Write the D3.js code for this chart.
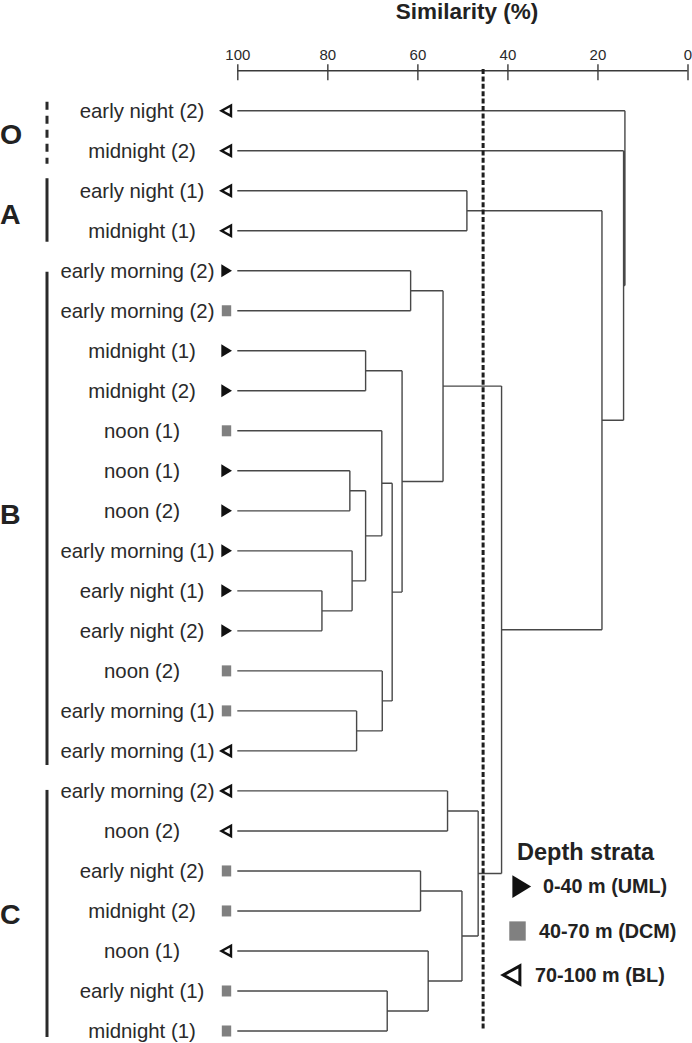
<!DOCTYPE html>
<html>
<head>
<meta charset="utf-8">
<script src="https://cdn.jsdelivr.net/npm/d3@7"></script>
<style>
  html, body { margin: 0; padding: 0; background: #fff; }
  svg { display: block; font-family: Arial, "Liberation Sans", Helvetica, sans-serif; }
</style>
</head>
<body>
<svg id="chart" width="692" height="1043"></svg>
<script>
// ---------- DATA ----------
const leafLabels = [
  "early night (2)", "midnight (2)",
  "early night (1)", "midnight (1)",
  "early morning (2)", "early morning (2)", "midnight (1)", "midnight (2)",
  "noon (1)", "noon (1)", "noon (2)", "early morning (1)", "early night (1)",
  "early night (2)", "noon (2)", "early morning (1)", "early morning (1)",
  "early morning (2)", "noon (2)", "early night (2)", "midnight (2)",
  "noon (1)", "early night (1)", "midnight (1)"
];
const leafStrata = [
  "BL", "BL",
  "BL", "BL",
  "UML", "DCM", "UML", "UML",
  "DCM", "UML", "UML", "UML", "UML",
  "UML", "DCM", "DCM", "BL",
  "BL", "BL", "DCM", "DCM",
  "BL", "DCM", "DCM"
];
// linkage: node ids 0..23 are leaves; merge k creates node 24+k
const mergeLeft  = [12,  9, 11, 15,  6, 25,  8, 14, 22, 30, 28,  4, 19, 21, 35, 17, 36,  2, 39, 38, 41,  1,  0];
const mergeRight = [13, 10, 24, 16,  7, 26, 29, 27, 23, 31, 33,  5, 20, 32, 34, 18, 37,  3, 40, 42, 43, 44, 45];
const mergeSim   = [81.2, 75.0, 74.5, 73.5, 71.5, 71.5, 67.9, 67.8, 66.7, 65.6, 63.4, 61.5, 59.3, 57.6, 54.3, 53.3, 50.1, 49.0, 46.5, 41.3, 19.0, 14.2, 13.9];
const cutOff = 45.4;
const axisTicks = [100, 80, 60, 40, 20, 0];
const groupNames = ["O", "A", "B", "C"];
const groupFirst = [0, 2, 4, 17];
const groupLast  = [1, 3, 16, 23];
const groupDashed = [true, false, false, false];
const strataKeys = ["UML", "DCM", "BL"];
const strataLabels = ["0-40 m (UML)", "40-70 m (DCM)", "70-100 m (BL)"];
const axisTitle = "Similarity (%)";
const legendTitle = "Depth strata";

// ---------- SCALES ----------
const svg = d3.select("#chart");
const x = d3.scaleLinear().domain([100, 0]).range([237.3, 687.5]);
const y = d3.scalePoint().domain(d3.range(leafLabels.length)).range([110.7, 1031]);

// ---------- AXIS ----------
const axisG = svg.append("g").attr("transform", "translate(0,70.7)");
axisG.call(d3.axisTop(x).tickValues(axisTicks).tickSize(6.5).tickPadding(4).tickFormat(d3.format("d")));
axisG.select(".domain").attr("stroke", "#3a3a3a").attr("stroke-width", 1.4).attr("d", `M${x(100)},0H${x(0)}`);
axisG.selectAll(".tick line").attr("stroke", "#3a3a3a").attr("stroke-width", 1.4).attr("y1", 9.5).attr("y2", -6.5);
axisG.selectAll(".tick text").attr("font-size", 15).attr("fill", "#2a2a2a").attr("font-family", "Arial, 'Liberation Sans', sans-serif");

svg.append("text").attr("x", 467).attr("y", 19).attr("text-anchor", "middle")
  .attr("font-size", 22.5).attr("font-weight", "bold").attr("fill", "#222").text(axisTitle);

// ---------- DENDROGRAM ----------
const nodeX = [], nodeY = [];
leafLabels.forEach((_, i) => { nodeX[i] = x(100); nodeY[i] = y(i); });
const segs = [];
mergeSim.forEach((s, k) => {
  const id = leafLabels.length + k;
  const a = mergeLeft[k], b = mergeRight[k];
  const mx = x(s);
  nodeX[id] = mx;
  nodeY[id] = (nodeY[a] + nodeY[b]) / 2;
  segs.push(`M${nodeX[a]},${nodeY[a]}H${mx}`);
  segs.push(`M${nodeX[b]},${nodeY[b]}H${mx}`);
  segs.push(`M${mx},${nodeY[a]}V${nodeY[b]}`);
});
svg.append("path").attr("d", segs.join("")).attr("fill", "none")
  .attr("stroke", "#484848").attr("stroke-width", 1.4);

// cut-off line
svg.append("line").attr("x1", x(cutOff)).attr("x2", x(cutOff)).attr("y1", 69).attr("y2", 1029)
  .attr("stroke", "#1e1e1e").attr("stroke-width", 3).attr("stroke-dasharray", "5,2.4");

// ---------- LEAF LABELS & MARKERS ----------
const labelG = svg.append("g");
leafLabels.forEach((lab, i) => {
  const t = labelG.append("text").attr("y", y(i)).attr("dy", "0.35em")
    .attr("font-size", 20.4).attr("fill", "#2a2a2a").text(lab);
  const w = t.node().getComputedTextLength();
  let cx = 142;
  if (cx + w / 2 > 214.5) cx = 214.5 - w / 2;
  t.attr("x", cx).attr("text-anchor", "middle");
});

function marker(g, type, cx, cy, s, sw) {
  if (type === "UML") {
    g.append("path").attr("d", `M${cx - 5.2 * s},${cy - 6.5 * s}L${cx + 5.5 * s},${cy}L${cx - 5.2 * s},${cy + 6.5 * s}Z`)
      .attr("fill", "#111");
  } else if (type === "DCM") {
    g.append("rect").attr("x", cx - 4.7 * s).attr("y", cy - 5.5 * s).attr("width", 9.4 * s).attr("height", 11 * s)
      .attr("fill", "#808080");
  } else {
    g.append("path").attr("d", `M${cx - 5 * s},${cy}L${cx + 4.5 * s},${cy - 5.2 * s}L${cx + 4.5 * s},${cy + 5.2 * s}Z`)
      .attr("fill", "none").attr("stroke", "#111").attr("stroke-width", sw || 2.4).attr("stroke-linejoin", "miter");
  }
}
const markG = svg.append("g");
leafStrata.forEach((st, i) => marker(markG, st, 226.5, y(i), 1));

// ---------- GROUP BRACKETS ----------
const padTop = [-9, -12.5, 1, -1];
const padBot = [13, 11, 14, 6];
groupNames.forEach((g, k) => {
  const y1 = y(groupFirst[k]) + padTop[k], y2 = y(groupLast[k]) + padBot[k];
  svg.append("line").attr("x1", 47).attr("x2", 47).attr("y1", y1).attr("y2", y2)
    .attr("stroke", "#2a2a2a").attr("stroke-width", 3)
    .attr("stroke-dasharray", groupDashed[k] ? "8,6" : null);
  svg.append("text").attr("x", 0).attr("y", (y(groupFirst[k]) + y(groupLast[k])) / 2 + 3)
    .attr("dy", "0.35em").attr("font-size", 28.5).attr("font-weight", "bold").attr("fill", "#222").text(g);
});

// ---------- LEGEND ----------
const legG = svg.append("g");
legG.append("text").attr("x", 517).attr("y", 860).attr("font-size", 23.5).attr("font-weight", "bold")
  .attr("fill", "#222").text(legendTitle);
const legMarkX = [521.5, 517.5, 512];
const legTextX = [543, 539, 535];
const legY = [886.5, 931, 975];
strataKeys.forEach((k, i) => {
  marker(legG, k, legMarkX[i], legY[i], k === "DCM" ? 1.75 : 1.75, 3);
  legG.append("text").attr("x", legTextX[i]).attr("y", legY[i]).attr("dy", "0.35em")
    .attr("font-size", 19.8).attr("font-weight", "bold").attr("fill", "#222").text(strataLabels[i]);
});
</script>
</body>
</html>
